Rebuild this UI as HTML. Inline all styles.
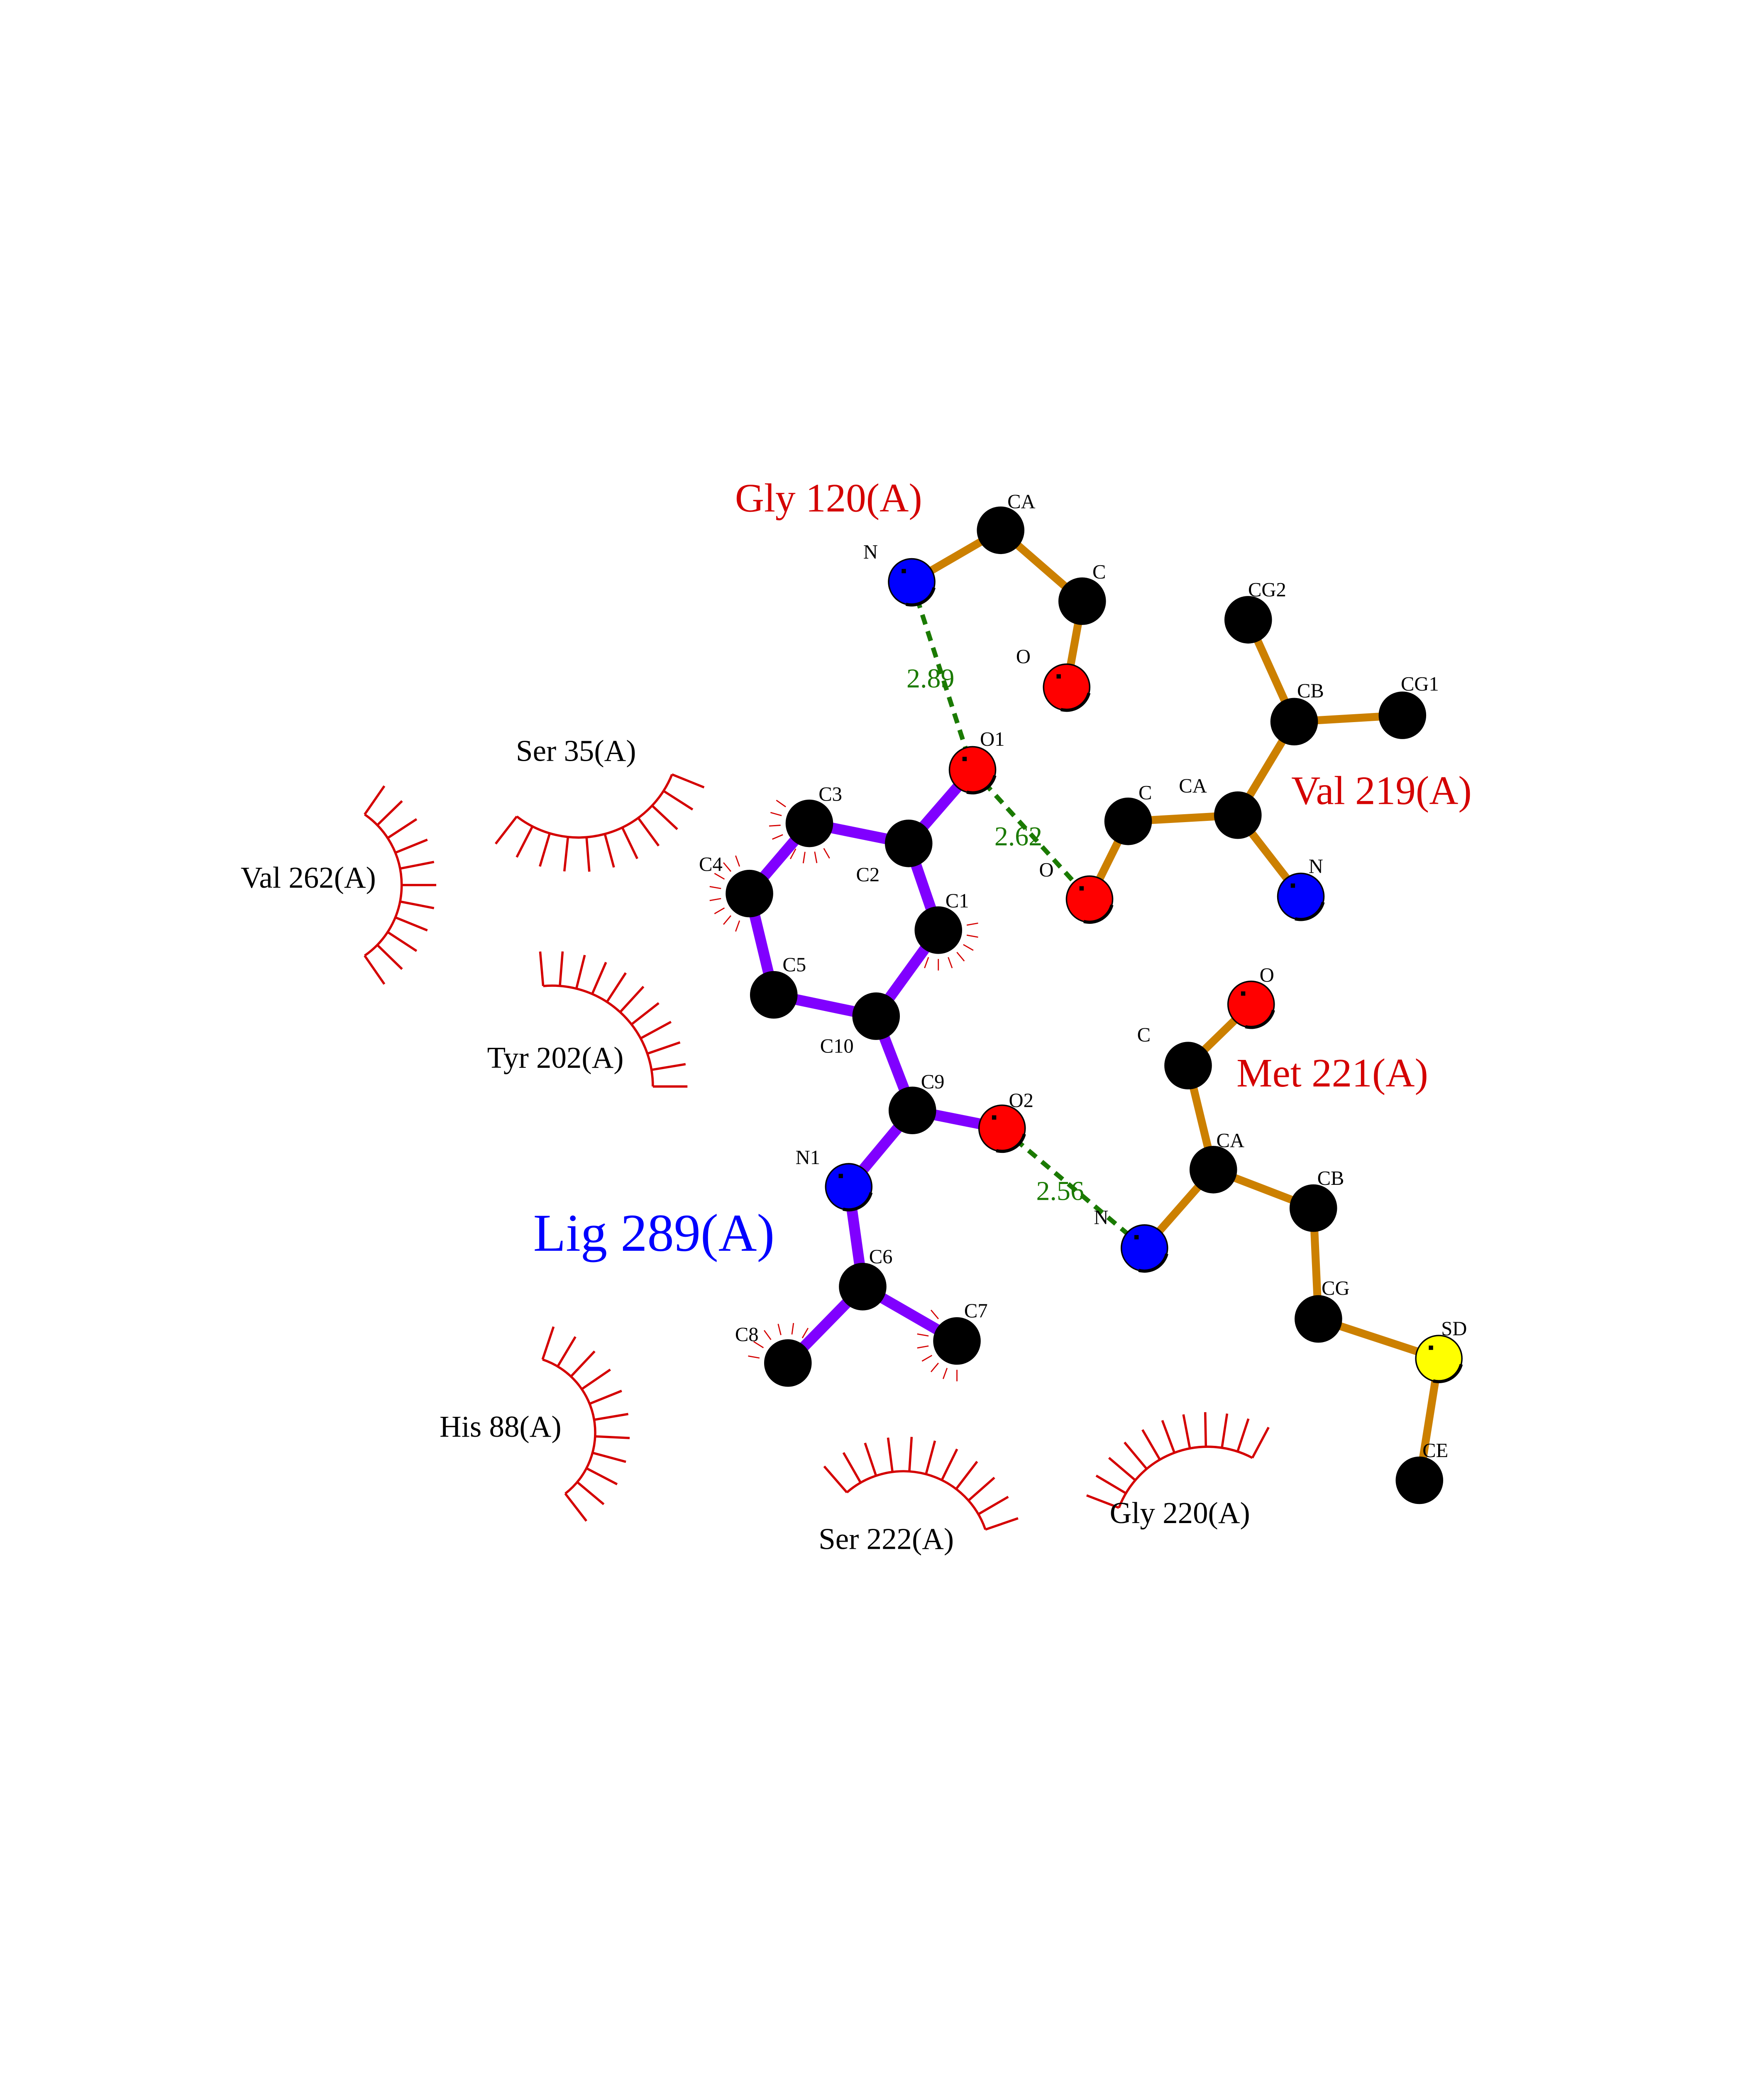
<!DOCTYPE html>
<html><head><meta charset="utf-8"><style>
html,body{margin:0;padding:0;background:#fff;width:4250px;height:5500px;overflow:hidden;}
svg{display:block;position:absolute;left:0;top:0;}
text{font-family:"Liberation Serif",serif;}
</style></head><body>
<svg id="s" xmlns="http://www.w3.org/2000/svg" width="4250" height="5500" viewBox="0 0 1224 1584">
<rect width="1224" height="1584" fill="#fff"/>
<g id="hyd" stroke="#d40000" fill="none"></g>
<g stroke="#cc8000" stroke-width="5.5" stroke-linecap="butt">
<line x1="632.6" y1="403.8" x2="694.3" y2="368"/>
<line x1="694.3" y1="368" x2="750.9" y2="417.2"/>
<line x1="750.9" y1="417.2" x2="740.1" y2="476.9"/>
<line x1="866.1" y1="430.1" x2="898" y2="500.8"/>
<line x1="898" y1="500.8" x2="973.1" y2="496.4"/>
<line x1="898" y1="500.8" x2="858.9" y2="565.7"/>
<line x1="858.9" y1="565.7" x2="782.8" y2="570"/>
<line x1="782.8" y1="570" x2="756" y2="624"/>
<line x1="858.9" y1="565.7" x2="902.6" y2="622.1"/>
<line x1="868.1" y1="697" x2="824.4" y2="739.5"/>
<line x1="824.4" y1="739.5" x2="841.9" y2="811.7"/>
<line x1="841.9" y1="811.7" x2="911.3" y2="838.4"/>
<line x1="841.9" y1="811.7" x2="794.1" y2="866.1"/>
<line x1="911.3" y1="838.4" x2="914.8" y2="915.3"/>
<line x1="914.8" y1="915.3" x2="998.4" y2="942.8"/>
<line x1="998.4" y1="942.8" x2="984.9" y2="1027.3"/>
</g>
<g stroke="#8000ff" stroke-width="7.5">
<line x1="674.8" y1="534.2" x2="630.5" y2="585.3"/>
<line x1="630.5" y1="585.3" x2="561.6" y2="571.4"/>
<line x1="561.6" y1="571.4" x2="520" y2="620.1"/>
<line x1="520" y1="620.1" x2="536.9" y2="690.4"/>
<line x1="536.9" y1="690.4" x2="607.9" y2="705.2"/>
<line x1="607.9" y1="705.2" x2="651.1" y2="645.5"/>
<line x1="651.1" y1="645.5" x2="630.5" y2="585.3"/>
<line x1="607.9" y1="705.2" x2="633.1" y2="770.6"/>
<line x1="633.1" y1="770.6" x2="695.3" y2="783"/>
<line x1="633.1" y1="770.6" x2="588.9" y2="823.6"/>
<line x1="588.9" y1="823.6" x2="598.6" y2="892.9"/>
<line x1="598.6" y1="892.9" x2="664" y2="930.6"/>
<line x1="598.6" y1="892.9" x2="546.7" y2="945.9"/>
</g>
<g stroke="#1a7a00" stroke-width="3.2" stroke-dasharray="7,5">
<line x1="632.6" y1="403.8" x2="674.8" y2="534.2"/>
<line x1="674.8" y1="534.2" x2="756" y2="624"/>
<line x1="695.3" y1="783" x2="794.1" y2="866.1"/>
</g>
<g id="atoms" stroke="#000" stroke-width="1"></g>
<g font-size="14" fill="#000">
<text x="599" y="387.6">N</text>
<text x="699" y="352.7">CA</text>
<text x="758" y="401.4">C</text>
<text x="705" y="460.2">O</text>
<text x="866" y="413.8">CG2</text>
<text x="900" y="484">CB</text>
<text x="972" y="479.3">CG1</text>
<text x="818" y="550">CA</text>
<text x="790" y="554.7">C</text>
<text x="721" y="608.2">O</text>
<text x="908" y="605.8">N</text>
<text x="874" y="681.3">O</text>
<text x="789" y="722.8">C</text>
<text x="844" y="796">CA</text>
<text x="914" y="822.2">CB</text>
<text x="917" y="898.6">CG</text>
<text x="1000" y="926.6">SD</text>
<text x="987" y="1011.1">CE</text>
<text x="759" y="849.4">N</text>
<text x="680" y="517.5">O1</text>
<text x="568" y="555.7">C3</text>
<text x="485" y="604.4">C4</text>
<text x="594" y="611.6">C2</text>
<text x="656" y="629.7">C1</text>
<text x="543" y="674.1">C5</text>
<text x="569" y="730.5">C10</text>
<text x="639" y="755.3">C9</text>
<text x="700" y="768.2">O2</text>
<text x="552" y="807.9">N1</text>
<text x="603" y="876.6">C6</text>
<text x="669" y="914.3">C7</text>
<text x="510" y="930.6">C8</text>
</g>
<g font-size="19" fill="#1a7a00">
<text x="629" y="477">2.89</text>
<text x="690" y="586.7">2.62</text>
<text x="719" y="832.7">2.56</text>
</g>
<g font-size="28" fill="#d40000">
<text x="510" y="355">Gly 120(A)</text>
<text x="896" y="558">Val 219(A)</text>
<text x="858" y="754">Met 221(A)</text>
</g>
<text x="370" y="868" font-size="37" fill="#0000ff">Lig 289(A)</text>
<g font-size="21" fill="#000">
<text x="358" y="528">Ser 35(A)</text>
<text x="167" y="616">Val 262(A)</text>
<text x="338" y="741">Tyr 202(A)</text>
<text x="305" y="997">His 88(A)</text>
<text x="568" y="1075">Ser 222(A)</text>
<text x="770" y="1057">Gly 220(A)</text>
</g>
<circle cx="60" cy="1467" r="1.8" fill="#000"/>
</svg>
<script>
(function(){
var NS="http://www.w3.org/2000/svg";
var hyd=document.getElementById("hyd"), at=document.getElementById("atoms");
function el(p,t,a){var e=document.createElementNS(NS,t);for(var k in a)e.setAttribute(k,a[k]);p.appendChild(e);return e;}
function arc(cx,cy,r,a0,a1,n,len){
  var d2r=Math.PI/180, x0=cx+r*Math.cos(a0*d2r), y0=cy+r*Math.sin(a0*d2r),
      x1=cx+r*Math.cos(a1*d2r), y1=cy+r*Math.sin(a1*d2r);
  var large=Math.abs(a1-a0)>180?1:0, sweep=a1>a0?1:0;
  el(hyd,"path",{d:"M"+x0+" "+y0+" A"+r+" "+r+" 0 "+large+" "+sweep+" "+x1+" "+y1,"stroke-width":1.6});
  for(var i=0;i<n;i++){var a=(a0+(a1-a0)*i/(n-1))*d2r;
    el(hyd,"line",{x1:cx+r*Math.cos(a),y1:cy+r*Math.sin(a),x2:cx+(r+len)*Math.cos(a),y2:cy+(r+len)*Math.sin(a),"stroke-width":1.6});}
}
arc(401.4,511.2,70,127.7,22,11,24);
arc(219.1,614.2,59.6,-55.3,55.3,11,24);
arc(383,754,70,-95,0,11,24);
arc(359.5,994.2,53.5,-71.5,52.3,11,24);
arc(627,1081,60,-131,-19,11,24);
arc(838,1070,66,-159,-62,11,24);
function spikes(cx,cy,a0,a1,n){var d2r=Math.PI/180;
  for(var i=0;i<n;i++){var a=(a0+(a1-a0)*i/(n-1))*d2r;
   el(hyd,"line",{x1:cx+20*Math.cos(a),y1:cy+20*Math.sin(a),x2:cx+28*Math.cos(a),y2:cy+28*Math.sin(a),"stroke-width":0.8});}}
spikes(561.6,571.4,60,215,9);
spikes(520,620.1,110,250,8);
spikes(651.1,645.5,-10,110,7);
spikes(664,930.6,90,230,8);
spikes(546.7,945.9,190,300,6);
var A=[["k",694.3,368],["k",750.9,417.2],["r",740.1,476.9],["b",632.6,403.8],
["k",866.1,430.1],["k",898,500.8],["k",973.1,496.4],["k",858.9,565.7],["k",782.8,570],["r",756,624],["b",902.6,622.1],
["r",868.1,697],["k",824.4,739.5],["k",841.9,811.7],["k",911.3,838.4],["k",914.8,915.3],["y",998.4,942.8],["k",984.9,1027.3],["b",794.1,866.1],
["r",674.8,534.2],["k",630.5,585.3],["k",561.6,571.4],["k",520,620.1],["k",536.9,690.4],["k",607.9,705.2],["k",651.1,645.5],
["k",633.1,770.6],["r",695.3,783],["b",588.9,823.6],["k",598.6,892.9],["k",664,930.6],["k",546.7,945.9]];
var C={k:"#000",r:"#ff0000",b:"#0000ff",y:"#ffff00"};
A.forEach(function(a){el(at,"circle",{cx:a[1],cy:a[2],r:16,fill:C[a[0]]});
 if(a[0]!="k"){el(at,"path",{d:"M"+(a[1]-4)+" "+(a[2]+15.5)+" A16 16 0 0 0 "+(a[1]+15.5)+" "+(a[2]+4),fill:"none","stroke-width":2.2});}
 el(at,"rect",{x:a[1]-7,y:a[2]-9,width:3,height:3,fill:"#000",stroke:"none"});});
})();
</script>
</body></html>
